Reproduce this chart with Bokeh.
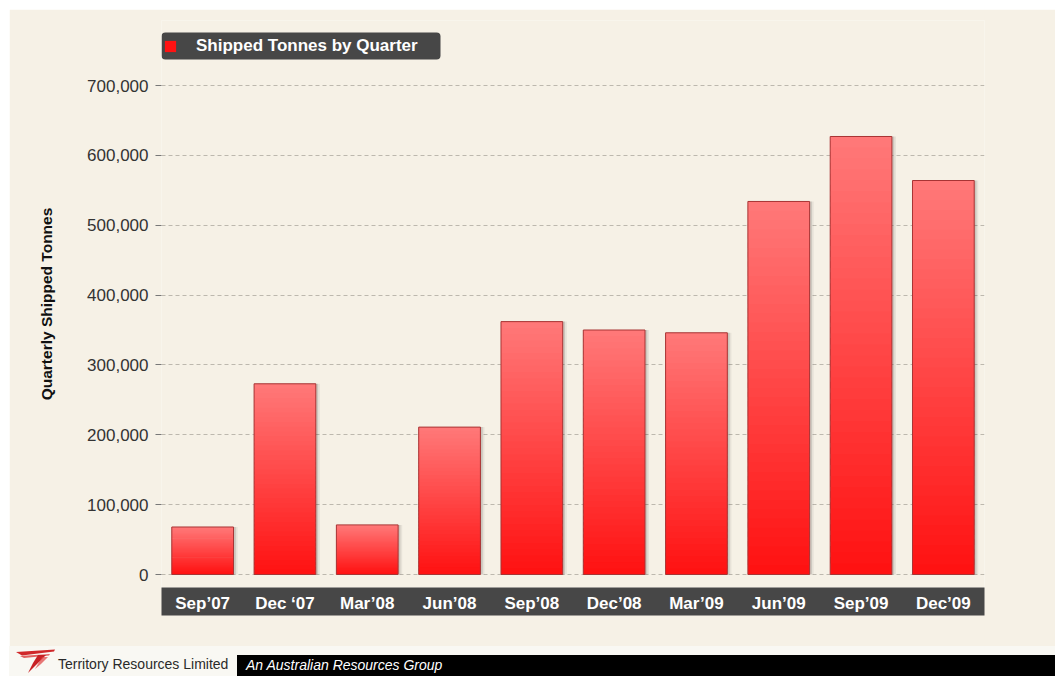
import numpy as np
from bokeh.plotting import figure
from bokeh.layouts import column
from bokeh.models import (ColumnDataSource, FactorRange, Range1d, FixedTicker,
                          NumeralTickFormatter, Legend, LegendItem, BoxAnnotation, Div)
from bokeh.transform import dodge
from bokeh.embed import file_html
from bokeh.resources import INLINE

# ---------------- data ----------------
quarters = ["Sep\u201907", "Dec \u201807", "Mar\u201908", "Jun\u201908", "Sep\u201908",
            "Dec\u201908", "Mar\u201909", "Jun\u201909", "Sep\u201909", "Dec\u201909"]
tonnes = [68000, 273000, 71000, 211000, 362000, 350000, 346000, 534000, 627000, 564000]
y_ticks = [0, 100000, 200000, 300000, 400000, 500000, 600000, 700000]
series_name = "Shipped Tonnes by Quarter"
y_title = "Quarterly Shipped Tonnes"
company = "Territory Resources Limited"
tagline = "An Australian Resources Group"

# ---------------- style ----------------
OX, OY = 9, 9                      # page inset of the slide
W, H = 1055 - OX, 646 - OY          # main figure size
FL, FR, FT, FB = 161, 984, 20, 587  # frame edges in page px
BAR_W = 0.75
TOP_RGB = np.array([255, 120, 120])
BOT_RGB = np.array([255, 18, 18])
N_STRIPS = 40
BG = "#f6f1e6"

def hexc(rgb):
    r, g, b = [int(round(c)) for c in rgb]
    return "#%02x%02x%02x" % (r, g, b)

PX = 700000 / (574 - 85)           # data units per px
p = figure(width=W, height=H,
           x_range=FactorRange(*quarters, range_padding=0),
           y_range=Range1d(-(FB - 574) * PX, 700000 + (85 - FT) * PX),
           output_backend="svg", toolbar_location=None,
           min_border_left=FL - OX, min_border_right=(OX + W) - FR,
           min_border_top=FT - OY, min_border_bottom=(OY + H) - FB)
p.margin = (OY, 0, 0, OX)
p.background_fill_color = BG
p.border_fill_color = BG
p.outline_line_color = None

# ---------------- bars ----------------
src = ColumnDataSource(dict(q=quarters, v=tonnes))

p.vbar(x=dodge("q", 0.05, range=p.x_range), top="v", bottom=0, width=BAR_W, source=src,
       fill_color="black", fill_alpha=0.06, line_color=None)
p.vbar(x=dodge("q", 0.028, range=p.x_range), top="v", bottom=0, width=BAR_W, source=src,
       fill_color="black", fill_alpha=0.12, line_color=None)

sq, sb, st, sc = [], [], [], []
for q, v in zip(quarters, tonnes):
    for k in range(N_STRIPS):
        sq.append(q)
        sb.append(v * k / N_STRIPS)
        st.append(min(v, v * (k + 1.6) / N_STRIPS))
        sc.append(hexc(BOT_RGB + (TOP_RGB - BOT_RGB) * k / (N_STRIPS - 1)))
strip_src = ColumnDataSource(dict(q=sq, b=sb, t=st, c=sc))
strips = p.vbar(x="q", top="t", bottom="b", width=BAR_W, source=strip_src,
                fill_color="c", line_color=None)

p.vbar(x="q", top="v", bottom=0, width=BAR_W, source=src,
       fill_color=None, line_color="#a83434", line_width=1)

# ---------------- axes ----------------
p.yaxis.ticker = FixedTicker(ticks=y_ticks)
p.yaxis.formatter = NumeralTickFormatter(format="0,0")
p.yaxis.axis_line_color = None
p.yaxis.major_tick_out = 6
p.yaxis.major_tick_in = 0
p.yaxis.major_tick_line_color = "#777777"
p.yaxis.minor_tick_line_color = None
p.yaxis.major_label_text_font = "Liberation Sans"
p.yaxis.major_label_text_font_size = "17px"
p.yaxis.major_label_text_color = "#333333"
p.yaxis.major_label_standoff = 7
p.yaxis.axis_label = y_title
p.yaxis.axis_label_text_font = "Liberation Sans"
p.yaxis.axis_label_text_font_style = "bold"
p.yaxis.axis_label_text_font_size = "15.5px"
p.yaxis.axis_label_text_color = "#111111"
p.yaxis.axis_label_standoff = 29

p.ygrid.grid_line_color = "#bdb8ae"
p.ygrid.grid_line_dash = "4 3"
p.ygrid.grid_line_width = 1
p.xgrid.grid_line_color = None

xa = p.xaxis[0]
xa.axis_line_color = None
xa.major_tick_line_color = None
xa.minor_tick_line_color = None
xa.major_label_text_color = "white"
xa.major_label_text_font = "Liberation Sans"
xa.major_label_text_font_style = "bold"
xa.major_label_text_font_size = "17px"
xa.major_label_standoff = 0
try:
    xa.background_fill_color = "#474747"
    xa.background_fill_alpha = 1.0
except Exception:
    pass

# ---------------- legend ----------------
p.add_layout(BoxAnnotation(left=0, right=440 - FL, top=FB - 32, bottom=FB - 59,
                           left_units="screen", right_units="screen",
                           top_units="screen", bottom_units="screen",
                           fill_color="#474747", fill_alpha=1, line_color=None,
                           border_radius=4, level="underlay"))
legend = Legend(items=[LegendItem(label=series_name, renderers=[strips])],
                location=(163 - FL, FB - 55.5), orientation="horizontal",
                background_fill_alpha=0, border_line_color=None,
                padding=0, margin=0, spacing=0,
                glyph_width=14, glyph_height=14, label_standoff=19,
                label_height=20,
                label_text_color="white", label_text_font="Liberation Sans",
                label_text_font_style="bold", label_text_font_size="17px")
p.add_layout(legend)

# ---------------- footer (page furniture) ----------------
logo = ('<svg style="position:absolute;left:7px;top:3px" width="42" height="26">'
        '<polygon points="0,3 39,0.5 38,2.5 6,6.5" fill="#d0282a"/>'
        '<polygon points="4,7 34,5 33,6.5 8,9" fill="#d83a3a" fill-opacity="0.8"/>'
        '<polygon points="22,6 30,6 21,15 12,24 17,14" fill="#c82024"/>'
        '<polygon points="26,8 32,8 25,15 19,20" fill="#e04040" fill-opacity="0.7"/>'
        '</svg>')
footer_html = (
    '<div style="position:relative;width:%dpx;height:30px;background:#f9f8f3;'
    'font-family:\'Liberation Sans\',Arial,sans-serif;overflow:hidden;">' % W
    + logo +
    '<span style="position:absolute;left:49px;top:10px;font-size:14px;line-height:16px;'
    'color:#2a2a2a;white-space:nowrap;">%s</span>' % company +
    '<div style="position:absolute;left:228px;top:9px;width:%dpx;height:21px;background:#000;">'
    % (W - 228) +
    '<span style="position:absolute;left:9px;top:2px;font-size:14px;line-height:16px;'
    'font-style:italic;color:#fff;white-space:nowrap;">%s</span></div></div>' % tagline
)
footer = Div(text=footer_html, width=W, height=30, margin=(0, 0, 0, OX))

layout = column(p, footer, spacing=0)
open("out.html", "w").write(file_html(layout, INLINE))
